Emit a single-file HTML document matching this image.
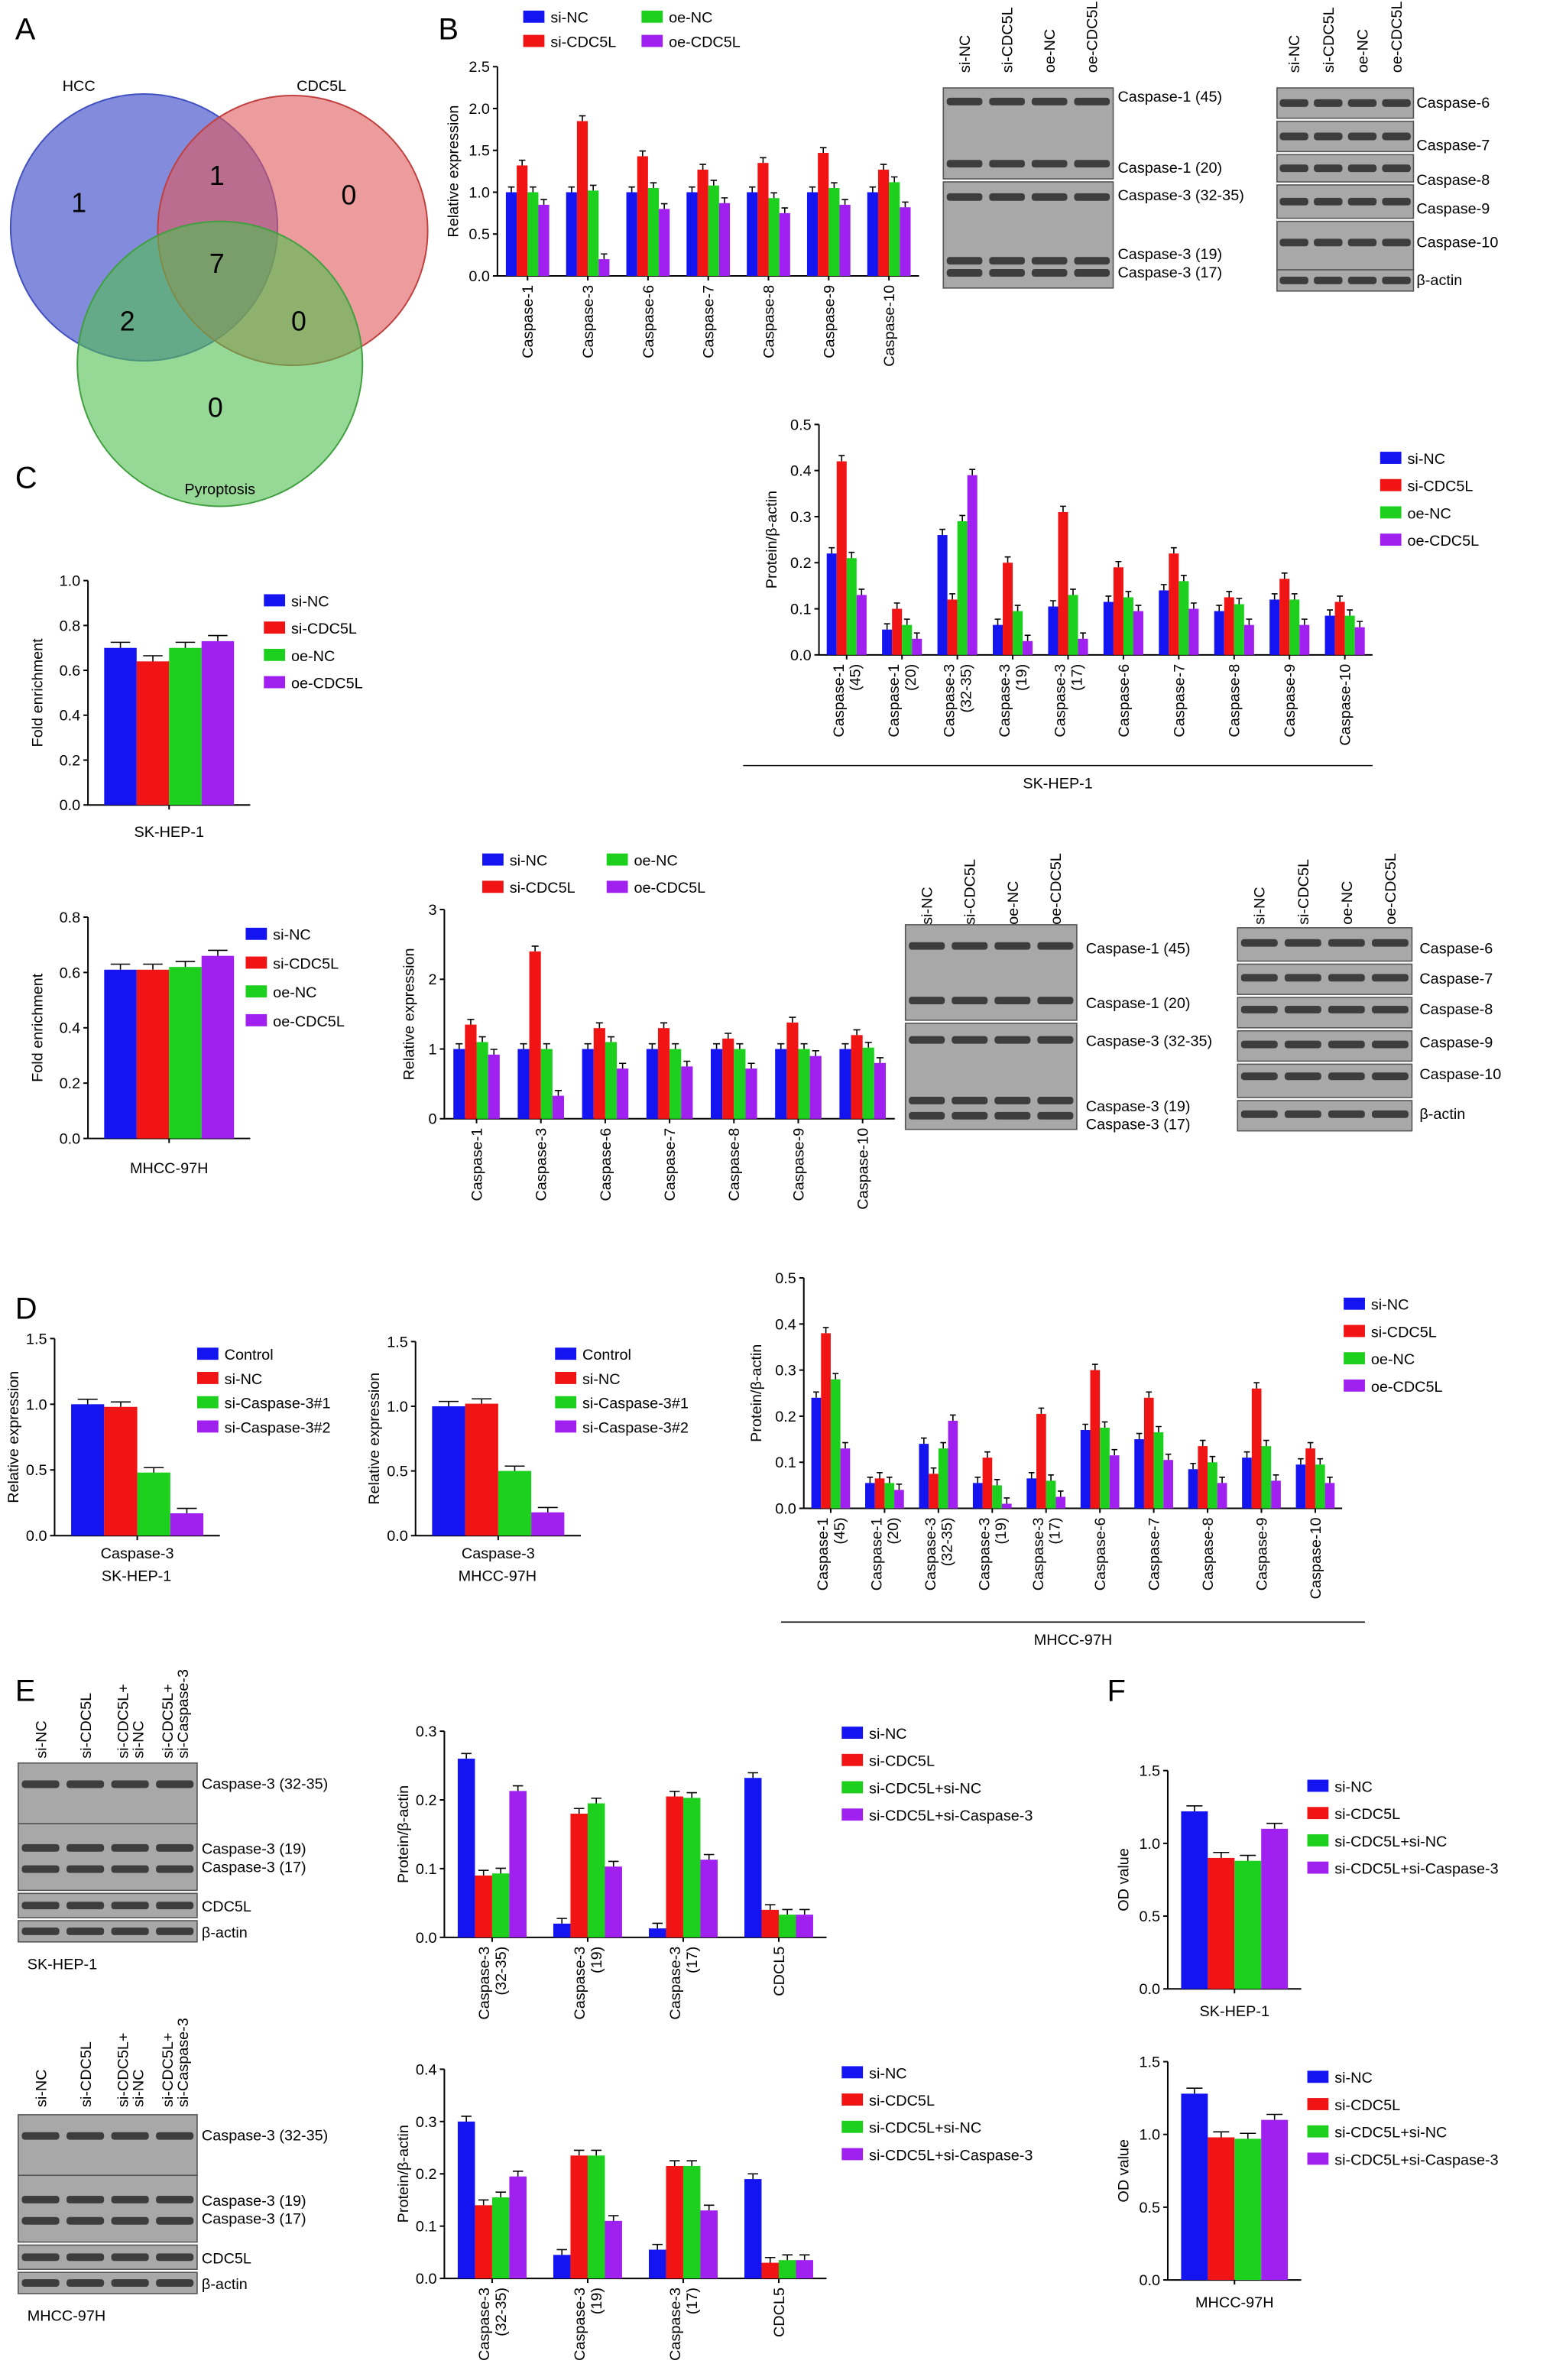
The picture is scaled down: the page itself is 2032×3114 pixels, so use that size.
<!DOCTYPE html>
<html><head><meta charset="utf-8">
<style>
html,body{margin:0;padding:0;background:#fff;}
svg{display:block;font-family:"Liberation Sans",sans-serif;}
</style></head>
<body>
<svg id="fig" width="2032" height="3114" viewBox="0 0 1024 1570" preserveAspectRatio="none" xmlns="http://www.w3.org/2000/svg">
<rect x="0" y="0" width="1024" height="1570" fill="#fff"/>
<g id="venn">
<circle cx="95" cy="150" r="88" fill="#5a64d0" fill-opacity="0.75" stroke="#4050c0"/>
<circle cx="193" cy="152" r="89" fill="#e05a5a" fill-opacity="0.6" stroke="#c04040"/>
<circle cx="145" cy="240" r="94" fill="#50c050" fill-opacity="0.6" stroke="#40a040"/>
<text x="52" y="60" font-size="10" text-anchor="middle">HCC</text>
<text x="212" y="60" font-size="10" text-anchor="middle">CDC5L</text>
<text x="145" y="326" font-size="10" text-anchor="middle">Pyroptosis</text>
<text x="52" y="140" font-size="18" text-anchor="middle">1</text>
<text x="143" y="122" font-size="18" text-anchor="middle">1</text>
<text x="230" y="135" font-size="18" text-anchor="middle">0</text>
<text x="143" y="180" font-size="18" text-anchor="middle">7</text>
<text x="84" y="218" font-size="18" text-anchor="middle">2</text>
<text x="197" y="218" font-size="18" text-anchor="middle">0</text>
<text x="142" y="275" font-size="18" text-anchor="middle">0</text>
</g>
<g id="charts"></g>
<g id="blots"></g>
<g id="letters" font-size="20">
<text x="10" y="26">A</text>
<text x="289" y="26">B</text>
<text x="10" y="322">C</text>
<text x="10" y="870">D</text>
<text x="10" y="1122">E</text>
<text x="730" y="1122">F</text>
</g>
<text x="90" y="1043" font-size="10" text-anchor="middle">SK-HEP-1</text>
<text x="328" y="1043" font-size="10" text-anchor="middle">MHCC-97H</text>
</svg>
<script>
// ---------- DATA ----------
const colors4=["#1414f0","#f01414","#1ed01e","#a020f0"];
const seriesOE=["si-NC","si-CDC5L","oe-NC","oe-CDC5L"];
const seriesD=["Control","si-NC","si-Caspase-3#1","si-Caspase-3#2"];
const seriesE=["si-NC","si-CDC5L","si-CDC5L+si-NC","si-CDC5L+si-Caspase-3"];
const relCats=["Caspase-1","Caspase-3","Caspase-6","Caspase-7","Caspase-8","Caspase-9","Caspase-10"];
const protCats=["Caspase-1|(45)","Caspase-1|(20)","Caspase-3|(32-35)","Caspase-3|(19)","Caspase-3|(17)","Caspase-6","Caspase-7","Caspase-8","Caspase-9","Caspase-10"];
const eCats=["Caspase-3|(32-35)","Caspase-3|(19)","Caspase-3|(17)","CDCL5"];
const relSkTicks=["0.0","0.5","1.0","1.5","2.0","2.5"];
const relSkValues=[[1,1,1,1,1,1,1],[1.32,1.85,1.43,1.27,1.35,1.47,1.27],[1.0,1.02,1.05,1.08,0.93,1.05,1.12],[0.85,0.2,0.8,0.87,0.75,0.85,0.82]];
const protSkTicks=["0.0","0.1","0.2","0.3","0.4","0.5"];
const protSkValues=[[0.22,0.055,0.26,0.065,0.105,0.115,0.14,0.095,0.12,0.085],[0.42,0.10,0.12,0.20,0.31,0.19,0.22,0.125,0.165,0.115],[0.21,0.065,0.29,0.095,0.13,0.125,0.16,0.11,0.12,0.085],[0.13,0.035,0.39,0.03,0.035,0.095,0.10,0.065,0.065,0.06]];
const foldSkTicks=["0.0","0.2","0.4","0.6","0.8","1.0"];
const foldSkValues=[[0.70],[0.64],[0.70],[0.73]];
const foldMhTicks=["0.0","0.2","0.4","0.6","0.8"];
const foldMhValues=[[0.61],[0.61],[0.62],[0.66]];
const relMhTicks=["0","1","2","3"];
const relMhValues=[[1,1,1,1,1,1,1],[1.35,2.4,1.3,1.3,1.15,1.38,1.2],[1.1,1.0,1.1,1.0,1.0,1.0,1.02],[0.92,0.33,0.72,0.75,0.72,0.9,0.8]];
const dTicks=["0.0","0.5","1.0","1.5"];
const dSkValues=[[1.0],[0.98],[0.48],[0.17]];
const dMhValues=[[1.0],[1.02],[0.5],[0.18]];
const protMhTicks=["0.0","0.1","0.2","0.3","0.4","0.5"];
const protMhValues=[[0.24,0.055,0.14,0.055,0.065,0.17,0.15,0.085,0.11,0.095],[0.38,0.065,0.075,0.11,0.205,0.30,0.24,0.135,0.26,0.13],[0.28,0.055,0.13,0.05,0.06,0.175,0.165,0.10,0.135,0.095],[0.13,0.04,0.19,0.01,0.025,0.115,0.105,0.055,0.06,0.055]];
const eSkTicks=["0.0","0.1","0.2","0.3"];
const eSkValues=[[0.26,0.02,0.013,0.232],[0.09,0.18,0.205,0.04],[0.093,0.195,0.203,0.033],[0.213,0.103,0.113,0.033]];
const eMhTicks=["0.0","0.1","0.2","0.3","0.4"];
const eMhValues=[[0.30,0.045,0.055,0.19],[0.14,0.235,0.215,0.03],[0.155,0.235,0.215,0.035],[0.195,0.11,0.13,0.035]];
const fTicks=["0.0","0.5","1.0","1.5"];
const fSkValues=[[1.22],[0.9],[0.88],[1.1]];
const fMhValues=[[1.28],[0.98],[0.97],[1.1]];

// ---------- DRAWING ----------
const NS="http://www.w3.org/2000/svg";
const root=document.getElementById('charts');
function mk(tag,attrs,parent,text){const e=document.createElementNS(NS,tag);for(const k in attrs)e.setAttribute(k,attrs[k]);if(text!==undefined)e.textContent=text;parent.appendChild(e);return e;}

function chart(c){
  const g=mk('g',{},root);
  
  
  const tmax=parseFloat(c.ticks[c.ticks.length-1]);
  const ys=v=>c.y0-(v/tmax)*(c.y0-c.yTop);
  const n=c.cats.length, gw=(c.x1-c.x0)/n, bw=gw*(c.bf||0.18);
  const xs=(i,s)=>c.x0+gw*i+gw/2+(s-1.5)*bw;
  const ax=mk('line',{x1:c.x0,y1:c.y0,x2:c.x1,y2:c.y0,stroke:'#000','stroke-width':1},g);
  
  const ay=mk('line',{x1:c.x0,y1:c.y0,x2:c.x0,y2:c.yTop,stroke:'#000','stroke-width':1},g);
  
  c.ticks.forEach(t=>{const y=ys(parseFloat(t));
    mk('line',{x1:c.x0-3,y1:y,x2:c.x0,y2:y,stroke:'#000'},g);
    const tl=mk('text',{x:c.x0-5,y:y+3.5,'font-size':10,'text-anchor':'end'},g,t);
    });
  const yl=mk('text',{x:0,y:0,'font-size':10,'text-anchor':'middle',transform:`translate(${c.x0-c.ylOff},${(c.y0+c.yTop)/2}) rotate(-90)`},g,c.ylabel);
  
  c.vals.forEach((ser,s)=>ser.forEach((v,i)=>{
    const x=xs(i,s),y=ys(v);
    const r=mk('rect',{x:x-bw/2,y:y,width:bw,height:c.y0-y,fill:colors4[s]},g);
    
    const e=(c.y0-c.yTop)*0.025;
    mk('path',{d:`M${x} ${y-e}V${y}M${x-bw*0.3} ${y-e}H${x+bw*0.3}`,stroke:'#000','stroke-width':0.8,fill:'none'},g);
  }));
  c.cats.forEach((cat,i)=>{
    const cx=c.x0+gw*i+gw/2;
    mk('line',{x1:cx,y1:c.y0,x2:cx,y2:c.y0+3,stroke:'#000'},g);
    if(c.hideCats) return;
    const parts=cat.split('|');
    parts.forEach((p,k)=>{
      const ox=cx+(k-(parts.length-1)/2)*11+3.5;
      const t=mk('text',{x:0,y:0,'font-size':10,'text-anchor':'end',transform:`translate(${ox},${c.y0+6}) rotate(-90)`},g,p);
      });
  });
  if(c.xlabel){const t=mk('text',{x:(c.x0+c.x1)/2,y:c.xlY,'font-size':10,'text-anchor':'middle'},g,c.xlabel);
    }
  const L=c.leg;
  c.series.forEach((nm,s)=>{
    const col=L.cols||1;
    let lx,ly;
    if(col===2){lx=L.x+(s>=2?L.dx:0);ly=L.y+(s%2)*L.dy;} else {lx=L.x;ly=L.y+s*L.dy;}
    const le=mk('g',{},g);
    
    mk('rect',{x:lx,y:ly-7,width:14,height:8,fill:colors4[s]},le);
    mk('text',{x:lx+18,y:ly+1,'font-size':10},le,nm);
  });
}

chart({name:'relative-expression-sk-hep-1',x0:328,x1:606,y0:182,yTop:44,ticks:relSkTicks,cats:relCats,vals:relSkValues,ylabel:'Relative expression',ylOff:26,series:seriesOE,leg:{x:345,y:14,dy:16,dx:78,cols:2}});
chart({name:'protein-ratio-sk-hep-1',x0:540,x1:905,y0:432,yTop:280,ticks:protSkTicks,cats:protCats,vals:protSkValues,ylabel:'Protein/β-actin',ylOff:28,series:seriesOE,leg:{x:910,y:305,dy:18}});
chart({name:'fold-enrichment-sk-hep-1',x0:58,x1:165,y0:531,yTop:383,ticks:foldSkTicks,cats:[''],hideCats:true,bf:0.2,vals:foldSkValues,ylabel:'Fold enrichment',ylOff:30,series:seriesOE,xlabel:'SK-HEP-1',xlY:552,leg:{x:174,y:399,dy:18}});
chart({name:'fold-enrichment-mhcc-97h',x0:58,x1:165,y0:751,yTop:605,ticks:foldMhTicks,cats:[''],hideCats:true,bf:0.2,vals:foldMhValues,ylabel:'Fold enrichment',ylOff:30,series:seriesOE,xlabel:'MHCC-97H',xlY:774,leg:{x:162,y:619,dy:19}});
chart({name:'relative-expression-mhcc-97h',x0:293,x1:590,y0:738,yTop:600,ticks:relMhTicks,cats:relCats,vals:relMhValues,ylabel:'Relative expression',ylOff:20,series:seriesOE,leg:{x:318,y:570,dy:18,dx:82,cols:2}});
chart({name:'caspase3-knockdown-sk-hep-1',x0:36,x1:145,y0:1013,yTop:883,ticks:dTicks,cats:[''],hideCats:true,bf:0.2,vals:dSkValues,ylabel:'Relative expression',ylOff:24,series:seriesD,xlabel:'Caspase-3',xlY:1028,leg:{x:130,y:896,dy:16}});
chart({name:'caspase3-knockdown-mhcc-97h',x0:274,x1:383,y0:1013,yTop:885,ticks:dTicks,cats:[''],hideCats:true,bf:0.2,vals:dMhValues,ylabel:'Relative expression',ylOff:24,series:seriesD,xlabel:'Caspase-3',xlY:1028,leg:{x:366,y:896,dy:16}});
chart({name:'protein-ratio-mhcc-97h',x0:530,x1:885,y0:995,yTop:843,ticks:protMhTicks,cats:protCats,vals:protMhValues,ylabel:'Protein/β-actin',ylOff:28,series:seriesOE,leg:{x:886,y:863,dy:18}});
chart({name:'e-protein-sk-hep-1',x0:293,x1:545,y0:1278,yTop:1142,ticks:eSkTicks,cats:eCats,vals:eSkValues,ylabel:'Protein/β-actin',ylOff:24,series:seriesE,leg:{x:555,y:1146,dy:18}});
chart({name:'e-protein-mhcc-97h',x0:293,x1:545,y0:1503,yTop:1365,ticks:eMhTicks,cats:eCats,vals:eMhValues,ylabel:'Protein/β-actin',ylOff:24,series:seriesE,leg:{x:555,y:1370,dy:18}});
chart({name:'od-value-sk-hep-1',x0:770,x1:858,y0:1312,yTop:1168,ticks:fTicks,cats:[''],hideCats:true,bf:0.2,vals:fSkValues,ylabel:'OD value',ylOff:26,series:seriesE,xlabel:'SK-HEP-1',xlY:1330,leg:{x:862,y:1181,dy:18}});
chart({name:'od-value-mhcc-97h',x0:770,x1:858,y0:1504,yTop:1360,ticks:fTicks,cats:[''],hideCats:true,bf:0.2,vals:fMhValues,ylabel:'OD value',ylOff:26,series:seriesE,xlabel:'MHCC-97H',xlY:1522,leg:{x:862,y:1373,dy:18}});

[[490,905,505,'SK-HEP-1'],[515,900,1070,'MHCC-97H']].forEach(a=>{
  const l=mk('line',{x1:a[0],y1:a[2],x2:a[1],y2:a[2],stroke:'#000','stroke-width':0.8},root);
  
  const t=mk('text',{x:(a[0]+a[1])/2,y:a[2]+15,'font-size':10,'text-anchor':'middle'},root,a[3]);
  
});

// ---------- BLOTS ----------
const blotRoot=document.getElementById('blots');
function blot(name,x,w,lanes,laneTop,strips,labels,labelX){
  const g=mk('g',{},blotRoot);
  
  const lw=w/lanes.length;
  lanes.forEach((ln,i)=>{
    const t=mk('text',{x:0,y:0,'font-size':10,transform:`translate(${x+lw*i+lw/2+3.5},${laneTop}) rotate(-90)`},g,ln);
    });
  strips.forEach(s=>{
    mk('rect',{x:x,y:s[0],width:w,height:s[1],fill:'#a8a8a8',stroke:'#555','stroke-width':0.8},g);
    s[2].forEach(by=>{lanes.forEach((_,i)=>{
      mk('rect',{x:x+lw*i+lw*0.08,y:by-2.5,width:lw*0.84,height:5,rx:2,fill:'#2a2a2a',opacity:0.85},g);});});
  });
  labels.forEach(l=>{const t=mk('text',{x:labelX,y:l[0],'font-size':10},g,l[1]);
    });
}
const l4=["si-NC","si-CDC5L","oe-NC","oe-CDC5L"];
blot('blot-sk-caspase-1-3',622,112,l4,48,[[58,60,[67,108]],[120,70,[130,172,180]]],[[67,'Caspase-1 (45)'],[114,'Caspase-1 (20)'],[132,'Caspase-3 (32-35)'],[171,'Caspase-3 (19)'],[183,'Caspase-3 (17)']],737);
blot('blot-sk-caspase-6-10',842,90,l4,48,[[58,20,[68]],[80,20,[90]],[102,18,[111]],[122,22,[133]],[146,32,[160]],[178,14,[185]]],[[71,'Caspase-6'],[99,'Caspase-7'],[122,'Caspase-8'],[141,'Caspase-9'],[163,'Caspase-10'],[188,'β-actin']],934);
blot('blot-mh-caspase-1-3',597,113,l4,610,[[610,63,[624,660]],[675,70,[686,726,736]]],[[629,'Caspase-1 (45)'],[665,'Caspase-1 (20)'],[690,'Caspase-3 (32-35)'],[733,'Caspase-3 (19)'],[745,'Caspase-3 (17)']],716);
blot('blot-mh-caspase-6-10',816,115,l4,610,[[612,22,[622]],[636,20,[645]],[658,20,[666]],[680,20,[689]],[702,22,[710]],[726,20,[735]]],[[629,'Caspase-6'],[649,'Caspase-7'],[669,'Caspase-8'],[691,'Caspase-9'],[712,'Caspase-10'],[738,'β-actin']],936);
const e4=["si-NC","si-CDC5L","si-CDC5L+|si-NC","si-CDC5L+|si-Caspase-3"];
function eb(name,lanesY,labX,base){
  blot(name,12,118,["","","",""],0,[[base,40,[base+14]],[base+40,44,[base+56,base+70]],[base+86,16,[base+94]],[base+104,14,[base+111]]],[[base+17,'Caspase-3 (32-35)'],[base+60,'Caspase-3 (19)'],[base+72,'Caspase-3 (17)'],[base+98,'CDC5L'],[base+115,'β-actin']],133);
  e4.forEach((ln,i)=>{ln.split('|').forEach((p,k,arr)=>{
    const t=mk('text',{x:0,y:0,'font-size':10,transform:`translate(${12+29.5*i+15+(k-(arr.length-1)/2)*10+3.5},${lanesY}) rotate(-90)`},blotRoot,p);
    });});
  const t=mk('text',{x:18,y:base+136,'font-size':10},blotRoot,labX);
  
}
eb('blot-e-sk',1160,'SK-HEP-1',1163);
eb('blot-e-mh',1390,'MHCC-97H',1395);
</script>
</body></html>
